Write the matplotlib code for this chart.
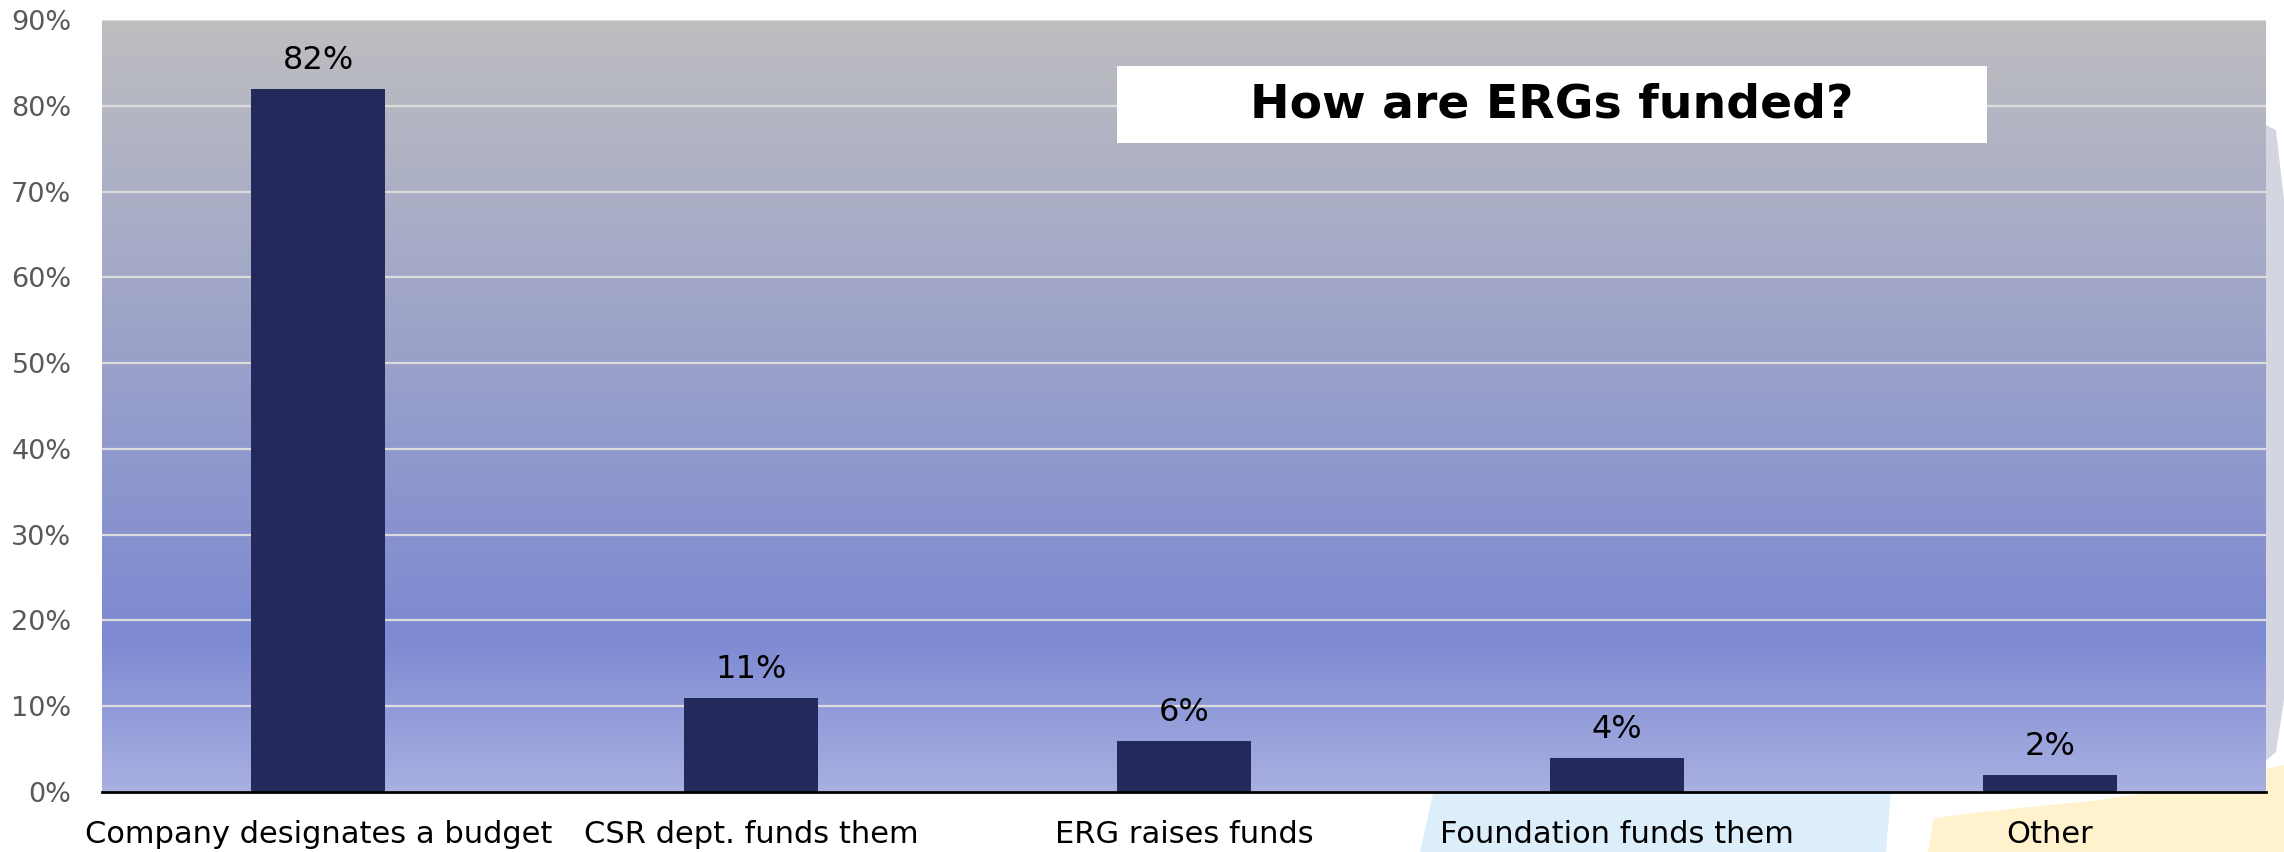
import matplotlib
matplotlib.use("Agg")
import matplotlib.pyplot as plt
import numpy as np
from matplotlib.colors import LinearSegmentedColormap
from matplotlib.patches import Polygon, Rectangle

# data
categories = [
    "Company designates a budget",
    "CSR dept. funds them",
    "ERG raises funds",
    "Foundation funds them",
    "Other",
]
shares = [82, 11, 6, 4, 2]
y_ticks = [0, 10, 20, 30, 40, 50, 60, 70, 80, 90]
title = "How are ERGs funded?"

W, H = 2284, 852
fig = plt.figure(figsize=(W / 100, H / 100), dpi=100)
fig.patch.set_facecolor("white")


def px(x, y):
    # pixel coords (top-left origin) -> figure fraction
    return (x / W, 1 - y / H)


# slide decorations behind the chart
blue_shape = [px(1420, 852), px(1436, 780), px(1892, 780), px(1886, 852)]
fig.patches.append(Polygon(blue_shape, closed=True, transform=fig.transFigure,
                           facecolor="#DCEEFA", edgecolor="none", zorder=0))
yellow_shape = [px(1928, 852), px(1934, 818), px(2000, 810), px(2100, 800),
                px(2200, 785), px(2284, 765), px(2284, 852)]
fig.patches.append(Polygon(yellow_shape, closed=True, transform=fig.transFigure,
                           facecolor="#FFF2CC", edgecolor="none", zorder=0))
gray_shape = [px(2255, 120), px(2276, 130), px(2284, 200), px(2284, 700),
              px(2276, 752), px(2255, 770)]
fig.patches.append(Polygon(gray_shape, closed=True, transform=fig.transFigure,
                           facecolor="#D3D6E0", edgecolor="none", zorder=0))

ax = fig.add_axes([102 / W, 1 - 792 / H, (2266 - 102) / W, (792 - 20) / H])
ax.set_zorder(1)

# gradient background of plot area
grad = LinearSegmentedColormap.from_list(
    "bg",
    [(0.0, "#A8AFE1"), (0.2, "#7D8AD2"), (0.5, "#959DCB"), (1.0, "#BEBEC0")],
)
ax.imshow(np.linspace(0, 1, 256).reshape(-1, 1), cmap=grad, aspect="auto",
          origin="lower", extent=(-0.5, 4.5, 0, 90), zorder=0)

x = np.arange(len(categories))
bars = ax.bar(x, shares, width=0.31, color="#23295B", zorder=3)

for b, v in zip(bars, shares):
    ax.annotate(f"{v}%", (b.get_x() + b.get_width() / 2, v),
                xytext=(0, 9), textcoords="offset points",
                ha="center", va="bottom", fontsize=23, color="black", zorder=5)

ax.set_xlim(-0.5, 4.5)
ax.set_ylim(0, 90)
ax.set_yticks(y_ticks)
ax.set_yticklabels([f"{t}%" for t in y_ticks])
ax.set_xticks(x)
ax.set_xticklabels(categories)
ax.tick_params(axis="y", length=0, pad=22, labelsize=19.5, labelcolor="#595959")
ax.tick_params(axis="x", length=0, pad=20, labelsize=22, labelcolor="black")

ax.grid(axis="y", color="#DCDCDC", linewidth=1.6, zorder=1)
ax.set_axisbelow(False)
for gl in ax.get_ygridlines():
    gl.set_zorder(1)

for s in ["left", "right", "top"]:
    ax.spines[s].set_visible(False)
ax.spines["bottom"].set_color("black")
ax.spines["bottom"].set_linewidth(2)
ax.spines["bottom"].set_zorder(4)

# title box
bx0, by0 = (1117 - 102) / 2164, 1 - (143 - 20) / 772
bw, bh = 870 / 2164, 77 / 772
ax.add_patch(Rectangle((bx0, by0), bw, bh, transform=ax.transAxes,
                       facecolor="white", edgecolor="none", zorder=6))
ax.text(bx0 + bw / 2, by0 + bh / 2, title, transform=ax.transAxes,
        ha="center", va="center", fontsize=34, fontweight="bold",
        color="black", zorder=7)

fig.savefig("out.png", dpi=100)
